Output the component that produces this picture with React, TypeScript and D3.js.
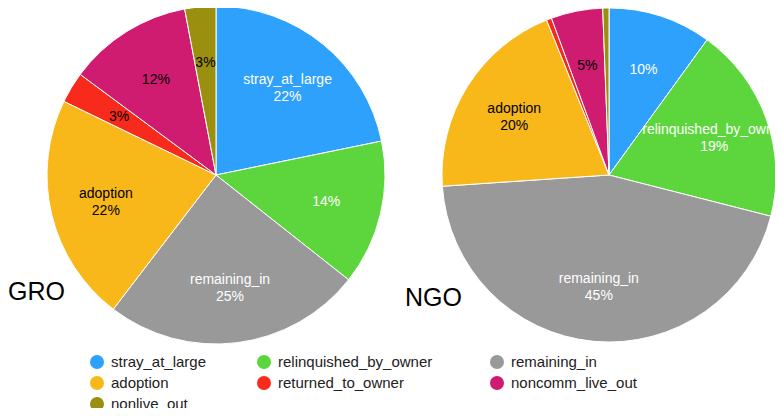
import * as d3 from 'd3';

const categories = ['stray_at_large', 'relinquished_by_owner', 'remaining_in', 'adoption', 'returned_to_owner', 'noncomm_live_out', 'nonlive_out'];
const colors = ['#2ea1fc', '#5cd63c', '#999999', '#f8b81a', '#f82a1c', '#cf1b70', '#9b8f10'];
const textColors = ['#fff', '#fff', '#fff', '#000', '#000', '#000', '#000'];
const groValues = [22, 14, 25, 22, 3, 12, 3];
const ngoValues = [10, 19, 45, 20, 0.5, 5, 0.6];
const pies = [
    { name: 'GRO', values: groValues, cx: 216, cy: 175, r: 169, lx: 8, ly: 300 },
    { name: 'NGO', values: ngoValues, cx: 609, cy: 175, r: 167, lx: 405, ly: 306 },
];
const font = 'Helvetica, Arial, "Liberation Sans", sans-serif';

const App = () => {
    const cols = [97, 264, 497];
    const rows = [362, 383, 404];
    return (
        <svg width={783} height={416} style={{ display: 'block', margin: -8 }}>
            {pies.map((p, pi) => {
                const total = d3.sum(p.values);
                const pie = d3.pie<number>().sort(null).value((d) => d)(p.values);
                const arc = d3.arc<d3.PieArcDatum<number>>().innerRadius(0).outerRadius(p.r);
                const labelArc = d3.arc<d3.PieArcDatum<number>>().innerRadius(p.r * 0.67).outerRadius(p.r * 0.67);
                return (
                    <g key={p.name}>
                        <clipPath id={`clip${pi}`}>
                            <circle cx={p.cx} cy={p.cy} r={p.r} />
                        </clipPath>
                        <g transform={`translate(${p.cx},${p.cy})`}>
                            {pie.map((d, i) => (
                                <path key={i} d={arc(d) || ''} fill={colors[i]} stroke="#fff" strokeWidth={1} />
                            ))}
                        </g>
                        <g clipPath={`url(#clip${pi})`}>
                            <g transform={`translate(${p.cx},${p.cy})`}>
                                {pie.map((d, i) => {
                                    const pct = Math.round((d.data / total) * 100);
                                    if (pct < 2) return null;
                                    const [x, y] = labelArc.centroid(d);
                                    const showName = d.data / total > 0.15;
                                    return (
                                        <text key={i} textAnchor="middle" fontFamily={font} fontSize={14} fill={textColors[i]}>
                                            {showName ? (
                                                <>
                                                    <tspan x={x} y={y - 3}>{categories[i]}</tspan>
                                                    <tspan x={x} y={y + 14}>{`${pct}%`}</tspan>
                                                </>
                                            ) : (
                                                <tspan x={x} y={y + 5}>{`${pct}%`}</tspan>
                                            )}
                                        </text>
                                    );
                                })}
                            </g>
                        </g>
                        <text x={p.lx} y={p.ly} fontFamily={font} fontSize={25} fill="#000">{p.name}</text>
                    </g>
                );
            })}
            {categories.map((c, i) => {
                const x = cols[i % 3];
                const y = rows[Math.floor(i / 3)];
                return (
                    <g key={c}>
                        <circle cx={x} cy={y} r={7} fill={colors[i]} />
                        <text x={x + 14} y={y + 5} fontFamily={font} fontSize={15} fill="#222">{c}</text>
                    </g>
                );
            })}
        </svg>
    );
};

export default App;
